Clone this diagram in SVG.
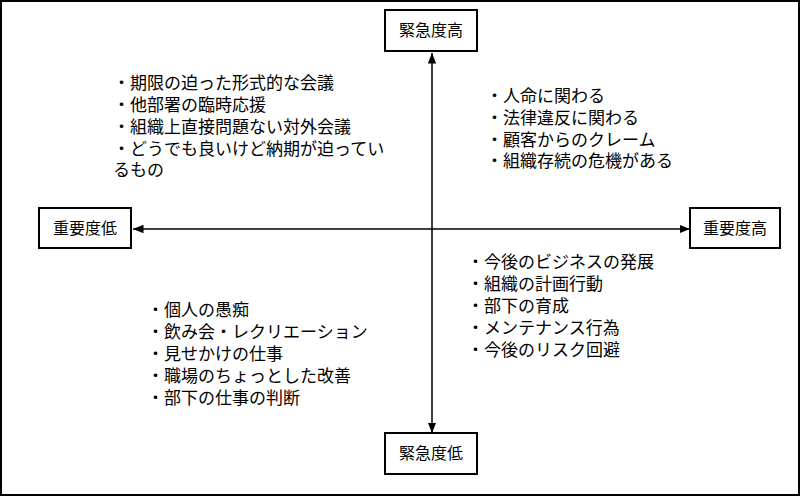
<svg xmlns="http://www.w3.org/2000/svg" width="800" height="496" viewBox="0 0 800 496">
<style>
.b{fill:#fff;stroke:#000;stroke-width:2}
text{font-family:"Liberation Sans","Noto Sans CJK JP",sans-serif;font-size:17px;fill:#000}
.c{text-anchor:middle;font-size:16px}
line{stroke:#000;stroke-width:1.5}
</style>
<defs><marker id="a" viewBox="0 0 10 10" refX="10" refY="5" markerWidth="7" markerHeight="7" orient="auto-start-reverse"><path d="M0,1L10,5L0,9z"/></marker></defs>
<rect x="1" y="1" width="798" height="494" fill="#fff" stroke="#000" stroke-width="2"/>
<g id="connectors">
<line x1="432" y1="433" x2="432" y2="53" marker-end="url(#a)" marker-start="url(#a)"/>
<line x1="690" y1="229" x2="133" y2="229" marker-end="url(#a)" marker-start="url(#a)"/>
</g>
<g id="top"><rect class="b" x="385" y="10" width="92" height="41"/><text class="c" x="431" y="36">緊急度高</text></g>
<g id="bottom"><rect class="b" x="385" y="433" width="92" height="41"/><text class="c" x="431" y="459">緊急度低</text></g>
<g id="left"><rect class="b" x="39" y="208" width="92" height="40"/><text class="c" x="85" y="234">重要度低</text></g>
<g id="right"><rect class="b" x="690" y="208" width="90" height="40"/><text class="c" x="735" y="234">重要度高</text></g>
<g id="tl"><text x="113" y="89">・期限の迫った形式的な会議</text><text x="113" y="111">・他部署の臨時応援</text><text x="113" y="133">・組織上直接問題ない対外会議</text><text x="113" y="155">・どうでも良いけど納期が迫ってい</text><text x="113" y="176">るもの</text></g>
<g id="tr"><text x="486" y="102">・人命に関わる</text><text x="486" y="124">・法律違反に関わる</text><text x="486" y="146">・顧客からのクレーム</text><text x="486" y="167">・組織存続の危機がある</text></g>
<g id="br"><text x="467" y="268">・今後のビジネスの発展</text><text x="467" y="290">・組織の計画行動</text><text x="467" y="312">・部下の育成</text><text x="467" y="334">・メンテナンス行為</text><text x="467" y="356">・今後のリスク回避</text></g>
<g id="bl"><text x="147" y="316">・個人の愚痴</text><text x="147" y="338">・飲み会・レクリエーション</text><text x="147" y="360">・見せかけの仕事</text><text x="147" y="382">・職場のちょっとした改善</text><text x="147" y="404">・部下の仕事の判断</text></g>
</svg>
